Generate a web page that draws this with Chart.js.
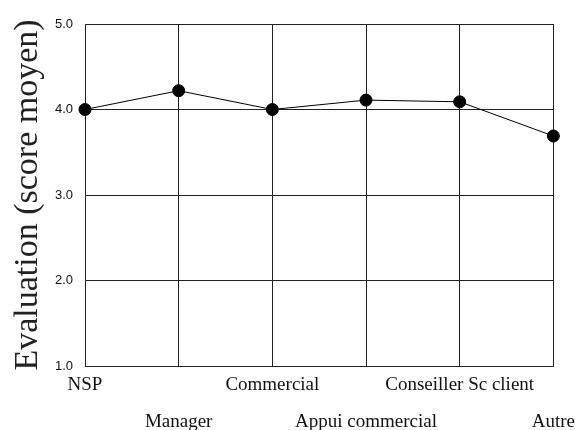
<!DOCTYPE html>
<html>
<head>
<meta charset="utf-8">
<script src="https://cdn.jsdelivr.net/npm/chart.js@4"></script>
<style>
  html, body { margin: 0; padding: 0; background: #fff; }
  #wrap { width: 575px; height: 430px; }
</style>
</head>
<body>
<div id="wrap"><canvas id="evaluation"></canvas></div>
<script>
// categories (x axis) and mean scores
const categories = ["NSP", "Manager", "Commercial", "Appui commercial", "Conseiller Sc client", "Autre"];
const scores = [4.0, 4.22, 4.0, 4.11, 4.09, 3.69];
const yTicks = [1.0, 2.0, 3.0, 4.0, 5.0];

const gridColor = "#222";
const serif = "'Liberation Serif', 'Times New Roman', serif";

const chart = new Chart(document.getElementById("evaluation"), {
    type: "line",
    data: {
        labels: categories,
        datasets: [{
            label: "score moyen",
            data: scores,
            borderColor: "#000",
            borderWidth: 1,
            backgroundColor: "#000",
            pointBackgroundColor: "#000",
            pointBorderColor: "#000",
            pointRadius: 6,
            tension: 0
        }]
    },
    options: {
        responsive: true,
        maintainAspectRatio: false,
        animation: false,
        layout: {
            padding: { left: 0, right: 3, top: 24, bottom: 0 }
        },
        plugins: {
            legend: { display: false },
            tooltip: { enabled: false }
        },
        scales: {
            x: {
                offset: false,
                grid: { color: gridColor, lineWidth: 1, drawTicks: false },
                border: { color: gridColor },
                afterFit: function (scale) { scale.height = 64; },
                ticks: {
                    autoSkip: false,
                    maxRotation: 0,
                    padding: 0,
                    color: "#111",
                    font: { family: serif, size: 19, lineHeight: 1.95 },
                    callback: function (value, index) {
                        const lbl = categories[index];
                        return index % 2 === 1 ? ["", lbl] : lbl;
                    }
                }
            },
            y: {
                min: yTicks[0],
                max: yTicks[yTicks.length - 1],
                afterBuildTicks: function (scale) {
                    scale.ticks = yTicks.map(function (v) { return { value: v }; });
                },
                afterFit: function (scale) { scale.width = 85; },
                grid: { color: gridColor, lineWidth: 1, drawTicks: false },
                border: { color: gridColor },
                ticks: {
                    padding: 12,
                    color: "#111",
                    font: { family: "'Liberation Sans', sans-serif", size: 13 },
                    callback: function (value) { return Number(value).toFixed(1); }
                },
                title: {
                    display: true,
                    text: "Evaluation (score moyen)",
                    color: "#222",
                    padding: { top: 8, bottom: 0 },
                    font: { family: serif, size: 34 }
                }
            }
        }
    }
});
</script>
</body>
</html>
